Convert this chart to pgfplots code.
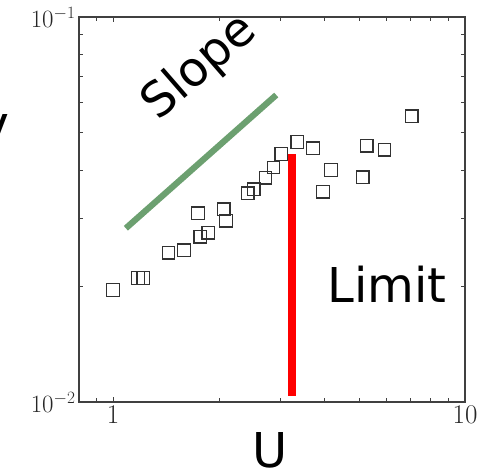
\documentclass[border=0pt]{standalone}
\usepackage{fontspec}
\newfontfamily\dejavu{DejaVu Sans}
\usepackage{pgfplots}
\pgfplotsset{compat=1.18}
\usepackage{pgfplotstable}
\definecolor{slopegreen}{RGB}{108,160,112}
\definecolor{axgray}{RGB}{64,64,64}
\definecolor{mkgray}{RGB}{50,50,50}

\pgfplotstableread{
x y
1.000 0.01954
1.178 0.02100
1.218 0.02100
1.437 0.02443
1.590 0.02477
1.743 0.03090
1.770 0.02689
1.865 0.02753
2.062 0.03166
2.095 0.02958
2.413 0.03484
2.508 0.03570
2.710 0.03825
2.857 0.04065
3.007 0.04407
3.338 0.04738
3.702 0.04560
4.164 0.04005
3.948 0.03516
5.252 0.04628
5.905 0.04521
5.116 0.03834
7.063 0.05524
}\points

\begin{document}
\begin{tikzpicture}
\begin{axis}[
    at={(0pt,0pt)}, anchor=south west,
    scale only axis, width=386pt, height=385pt,
    xmode=log, ymode=log,
    xmin=0.8, xmax=10, ymin=0.01, ymax=0.1,
    axis line style={axgray, line width=1.3pt},
    xtick={1,10}, xticklabels={1,10},
    ytick={0.01,0.1}, yticklabels={$10^{-2}$,$10^{-1}$},
    minor xtick={0.9,2,3,4,5,6,7,8,9},
    minor ytick={0.02,0.03,0.04,0.05,0.06,0.07,0.08,0.09},
    tick style={axgray, line width=1pt},
    major tick length=5pt, minor tick length=4pt,
    tick label style={font=\fontsize{27}{27}\selectfont, text=black!85},
]
% slope guide
\addplot[slopegreen, line width=6.2pt] coordinates {(1.087,0.02827) (2.908,0.06272)};
% limit
\addplot[red, line width=8.5pt] coordinates {(3.225,0.01038) (3.225,0.04407)};
% measurements
\addplot[only marks, mark=square, mark size=6.3pt,
    mark options={draw=mkgray, line width=1.3pt}] table[x=x, y=y] {\points};
\end{axis}
\node[font=\dejavu\fontsize{48}{48}\selectfont, rotate=41] at (121pt,334.5pt) {Slope};
\node[font=\dejavu\fontsize{48}{48}\selectfont, anchor=base] at (308pt,99pt) {Limit};
\node[font=\dejavu\fontsize{48}{48}\selectfont, anchor=base] at (191pt,-66pt) {U};
\node[font=\dejavu\fontsize{48}{48}\selectfont, anchor=base] at (-87.5pt,252pt) {V};
\pgfresetboundingbox
\path[use as bounding box] (-79pt,-69pt) rectangle (403pt,402pt);
\end{tikzpicture}
\end{document}
